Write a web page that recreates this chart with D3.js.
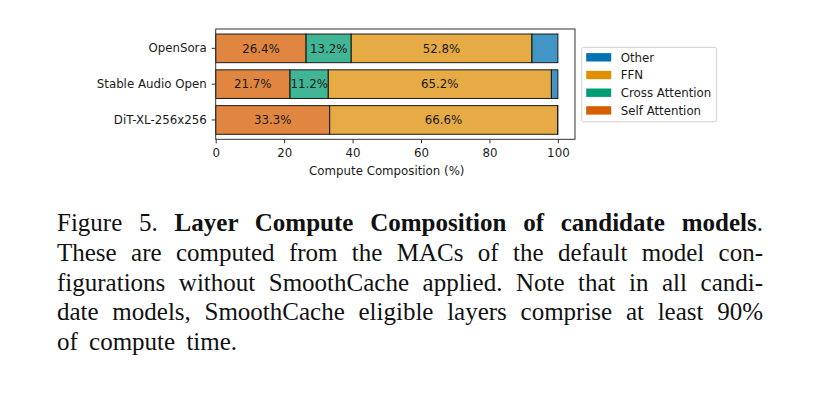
<!DOCTYPE html>
<html>
<head>
<meta charset="utf-8">
<script src="https://cdn.jsdelivr.net/npm/d3@7"></script>
<style>
  body { margin: 0; background: #fff; }
  svg { display: block; }
</style>
</head>
<body>
<div id="chart"></div>
<script>
// data (percent of MACs per layer type)
var models = ["OpenSora", "Stable Audio Open", "DiT-XL-256x256"];
var selfAttn = [26.4, 21.7, 33.3];
var crossAttn = [13.2, 11.2, 0];
var ffn = [52.8, 65.2, 66.6];
var other = [7.6, 1.9, 0.1];
var layers = ["Self Attention", "Cross Attention", "FFN", "Other"];
var layerColors = ["#d55e00", "#029e73", "#de8f05", "#0173b2"];
var xTicks = [0, 20, 40, 60, 80, 100];

var captionLines = [
  [["Figure 5. ", "normal"], ["Layer Compute Composition of candidate models", "bold"], [".", "normal"]],
  [["These are computed from the MACs of the default model con-", "normal"]],
  [["figurations without SmoothCache applied. Note that in all candi-", "normal"]],
  [["date models, SmoothCache eligible layers comprise at least 90%", "normal"]],
  [["of compute time.", "normal"]]
];

var width = 819,
    height = 397,
    plot = {left: 215.7, right: 575, top: 29, bottom: 139.3},
    font = "DejaVu Sans, sans-serif",
    fs = 11.8;

var svg = d3.select("#chart").append("svg")
    .attr("width", width)
    .attr("height", height);

// build rows for the stack from the named arrays
var rows = models.map(function(m, i) {
  return {model: m, "Self Attention": selfAttn[i], "Cross Attention": crossAttn[i],
          "FFN": ffn[i], "Other": other[i]};
});
var series = d3.stack().keys(layers)(rows);

var x = d3.scaleLinear()
    .domain([0, 105])
    .range([plot.left, plot.right]);

var y = d3.scaleBand()
    .domain(models)
    .range([plot.top, plot.bottom])
    .paddingInner(0.2)
    .paddingOuter(0.14);

var color = d3.scaleOrdinal().domain(layers).range(layerColors);

// stacked bars, faded like alpha=0.75
var g = svg.append("g");
var grp = g.selectAll("g.layer")
    .data(series)
    .enter().append("g")
    .attr("class", "layer");

grp.selectAll("rect")
    .data(d => d.map(v => ({key: d.key, v: v})))
    .enter().filter(d => d.v[1] - d.v[0] > 0)
    .append("rect")
    .attr("x", d => x(d.v[0]))
    .attr("y", d => y(d.v.data.model))
    .attr("width", d => x(d.v[1]) - x(d.v[0]))
    .attr("height", y.bandwidth())
    .attr("fill", d => color(d.key))
    .attr("fill-opacity", 0.75)
    .attr("stroke", "#1a1a1a")
    .attr("stroke-width", 1);

// percentage labels, the "Other" slice is left unlabeled
grp.filter(d => d.key != "Other").selectAll("text")
    .data(d => d.map(v => ({key: d.key, v: v})))
    .enter().filter(d => d.v[1] - d.v[0] > 0)
    .append("text")
    .attr("x", d => x((d.v[0] + d.v[1]) / 2))
    .attr("y", d => y(d.v.data.model) + y.bandwidth() / 2)
    .attr("dy", "0.36em")
    .attr("text-anchor", "middle")
    .style("font-family", font)
    .style("font-size", fs + "px")
    .style("fill", "#1a1a1a")
    .text(d => (d.v[1] - d.v[0]).toFixed(1) + "%");

// frame
svg.append("rect")
    .attr("x", plot.left)
    .attr("y", plot.top)
    .attr("width", plot.right - plot.left)
    .attr("height", plot.bottom - plot.top)
    .attr("fill", "none")
    .attr("stroke", "#333")
    .attr("stroke-width", 1);

// axes
var xAxis = svg.append("g")
    .attr("transform", "translate(0," + plot.bottom + ")")
    .call(d3.axisBottom(x).tickValues(xTicks).tickSize(4).tickPadding(5));

var yAxis = svg.append("g")
    .attr("transform", "translate(" + plot.left + ",0)")
    .call(d3.axisLeft(y).tickSize(4).tickPadding(5));

[xAxis, yAxis].forEach(function(a) {
  a.select(".domain").remove();
  a.selectAll("line").attr("stroke", "#333");
  a.selectAll("text")
      .style("font-family", font)
      .style("font-size", fs + "px")
      .style("fill", "#1a1a1a");
});

svg.append("text")
    .attr("x", x(50))
    .attr("y", 175)
    .attr("text-anchor", "middle")
    .style("font-family", font)
    .style("font-size", fs + "px")
    .style("fill", "#1a1a1a")
    .text("Compute Composition (%)");

// legend, listed top to bottom in reverse stack order
var legend = svg.append("g").attr("transform", "translate(581.7,47.3)");
legend.append("rect")
    .attr("width", 135)
    .attr("height", 74.4)
    .attr("rx", 2)
    .attr("fill", "#fff")
    .attr("stroke", "#d0d0d0");

var legendItems = layers.slice().reverse();
var li = legend.selectAll("g.item")
    .data(legendItems)
    .enter().append("g")
    .attr("class", "item")
    .attr("transform", (d, i) => "translate(0," + (10 + i * 17.7) + ")");

li.append("rect")
    .attr("x", 4.5)
    .attr("y", -4.2)
    .attr("width", 25)
    .attr("height", 8.4)
    .attr("fill", d => color(d));

li.append("text")
    .attr("x", 39)
    .attr("dy", "0.36em")
    .style("font-family", font)
    .style("font-size", fs + "px")
    .style("fill", "#1a1a1a")
    .text(d => d);

// caption, justified line by line like the paper
var capLeft = 57, capRight = 763, capTop = 231, capStep = 29.8;
captionLines.forEach(function(parts, i) {
  var t = svg.append("text")
      .attr("x", capLeft)
      .attr("y", capTop + i * capStep)
      .attr("xml:space", "preserve")
      .style("font-family", "Liberation Serif, Times New Roman, serif")
      .style("font-size", "25px")
      .style("fill", "#111");
  parts.forEach(function(p) {
    t.append("tspan")
        .style("font-weight", p[1])
        .text(p[0]);
  });
  var spaces = parts.map(p => p[0]).join("").split(" ").length - 1;
  if (i < captionLines.length - 1) {
    var natural = t.node().getComputedTextLength();
    t.attr("word-spacing", (capRight - capLeft - natural) / spaces);
  } else {
    t.attr("word-spacing", 5);
  }
});
</script>
</body>
</html>
